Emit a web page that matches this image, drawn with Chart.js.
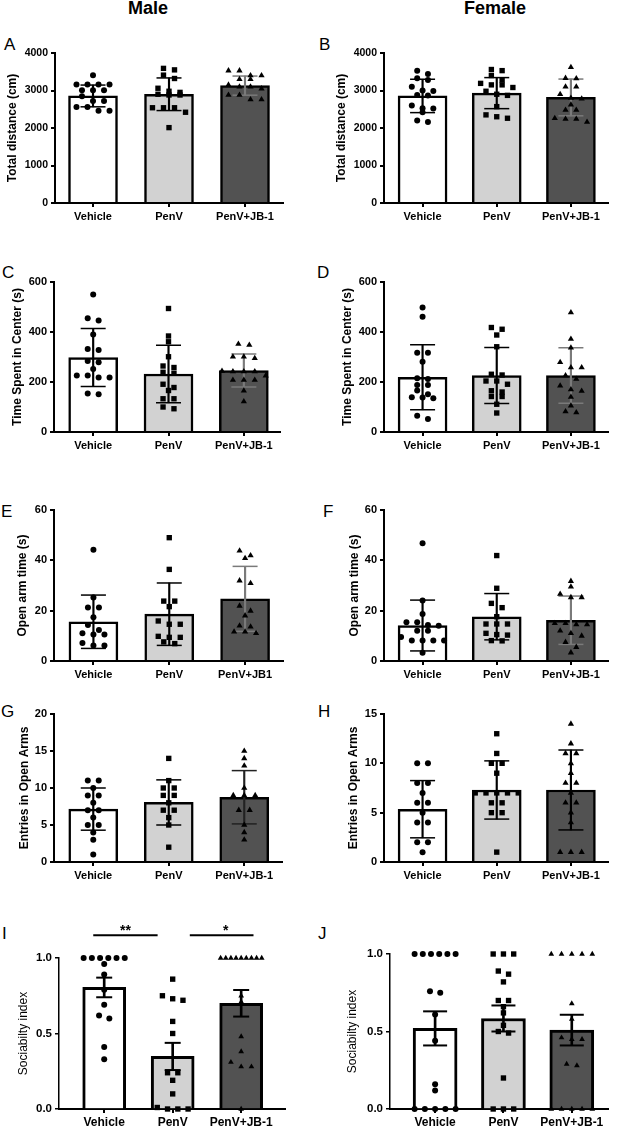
<!DOCTYPE html>
<html>
<head>
<meta charset="utf-8">
<script src="https://cdn.jsdelivr.net/npm/chart.js@4.4.0/dist/chart.umd.min.js"></script>
<style>
  html, body { margin: 0; padding: 0; background: #fff; }
  body { position: relative; width: 622px; height: 1128px; overflow: hidden; font-family: "Liberation Sans", Arial, sans-serif; }
  canvas { position: absolute; }
  .txt { position: absolute; line-height: 1; white-space: nowrap; color: #000; }
  .sex { font-size: 18px; font-weight: bold; transform: translateX(-50%); }
  .tag { font-size: 17px; }
</style>
</head>
<body>
<div class="txt sex" style="left:148px;top:-1px">Male</div>
<div class="txt sex" style="left:495px;top:-1px">Female</div>
<div class="txt tag" style="left:4px;top:35.6px">A</div>
<div class="txt tag" style="left:319px;top:35.6px">B</div>
<div class="txt tag" style="left:2px;top:263.6px">C</div>
<div class="txt tag" style="left:317px;top:263.6px">D</div>
<div class="txt tag" style="left:1px;top:502.6px">E</div>
<div class="txt tag" style="left:323px;top:502.6px">F</div>
<div class="txt tag" style="left:1px;top:702.6px">G</div>
<div class="txt tag" style="left:318px;top:702.6px">H</div>
<div class="txt tag" style="left:2px;top:924.6px">I</div>
<div class="txt tag" style="left:318px;top:924.6px">J</div>

<canvas id="chartA"></canvas>
<canvas id="chartB"></canvas>
<canvas id="chartC"></canvas>
<canvas id="chartD"></canvas>
<canvas id="chartE"></canvas>
<canvas id="chartF"></canvas>
<canvas id="chartG"></canvas>
<canvas id="chartH"></canvas>
<canvas id="chartI"></canvas>
<canvas id="chartJ"></canvas>

<script>
const groupLabels = ["Vehicle", "PenV", "PenV+JB-1"];
const groupLabelsE = ["Vehicle", "PenV", "PenV+JB1"];

// A - total distance, male (mean +/- SD)
const distTicks = [0, 1000, 2000, 3000, 4000];
const distMaleMean = [2855, 2900, 3130];
const distMaleSd = [290, 435, 255];
const distMaleVehicle = [3410, 3160, 3160, 3160, 3160, 3010, 3010, 3010, 2850, 2720, 2720, 2560, 2560, 2460, 2460];
const distMalePenV = [3590, 3550, 3410, 3320, 3060, 2980, 2950, 2900, 2880, 2880, 2540, 2540, 2540, 2420, 2010];
const distMaleJB = [3530, 3530, 3400, 3400, 3300, 3300, 3150, 3100, 3100, 3050, 2880, 2880, 2760, 2760];

// B - total distance, female
const distFemaleMean = [2855, 2930, 2815];
const distFemaleSd = [445, 414, 490];
const distFemaleVehicle = [3530, 3440, 3330, 3280, 3100, 3000, 2990, 2880, 2870, 2600, 2530, 2520, 2420, 2200, 2160];
const distFemalePenV = [3560, 3530, 3400, 3280, 3190, 3150, 3150, 3080, 2980, 2900, 2870, 2570, 2350, 2300, 2260];
const distFemaleJB = [3620, 3330, 3320, 3100, 3100, 2900, 2800, 2780, 2620, 2480, 2480, 2260, 2240, 2240, 2160];

// C - time in center, male
const centerTicks = [0, 200, 400, 600];
const centerMaleMean = [298, 232, 246];
const centerMaleSd = [116, 115, 66];
const centerMaleVehicle = [550, 455, 446, 390, 332, 328, 284, 279, 252, 226, 226, 218, 218, 154, 151];
const centerMalePenV = [494, 384, 361, 301, 264, 258, 239, 235, 191, 178, 166, 133, 133, 100, 93];
const centerMaleJB = [352, 348, 301, 301, 295, 244, 242, 242, 242, 225, 208, 208, 208, 165, 122];

// D - time in center, female
const centerFemaleMean = [219, 226, 226];
const centerFemaleSd = [130, 112, 111];
const centerFemaleVehicle = [498, 461, 317, 317, 281, 215, 212, 188, 188, 166, 151, 139, 138, 135, 65, 52];
const centerFemalePenV = [418, 411, 388, 341, 231, 228, 204, 204, 191, 165, 160, 142, 142, 111, 76];
const centerFemaleJB = [478, 372, 337, 279, 258, 258, 226, 212, 185, 170, 164, 140, 105, 82, 78];

// E - open arm time, male
const openTicks = [0, 20, 40, 60];
const openMaleMean = [15.6, 18.6, 24.7];
const openMaleSd = [10.6, 12.4, 12.9];
const openMaleVehicle = [44.2, 25.2, 21.3, 21.3, 17.4, 14.3, 12.3, 11, 10.5, 10.5, 7.2, 6.2, 6.2];
const openMalePenV = [49, 36.4, 23.8, 23.8, 21.6, 15.9, 14.6, 14.6, 9.8, 9.4, 9.4, 7.6, 6.9];
const openMaleJB = [43.8, 41.9, 40.8, 31.9, 30.9, 21.9, 19.9, 18, 14, 13.6, 11.6, 11.6, 11];

// F - open arm time, female
const openFemaleMean = [14.1, 17.6, 16.2];
const openFemaleSd = [10.1, 9.2, 9.6];
const openFemaleVehicle = [46.8, 24, 18.7, 15.4, 15.4, 14.3, 14, 12, 12, 9.5, 8.1, 8.1, 8.1, 8.1, 3.3];
const openFemalePenV = [41.9, 28.9, 22.9, 21.2, 17.6, 14.7, 14.7, 14.7, 11, 10.5, 10.3, 8.1, 8];
const openFemaleJB = [31.7, 29.5, 26.6, 25.3, 25.3, 15, 15, 14.5, 14.5, 12, 11, 10, 7.5, 5.5, 3.3];

// G - entries in open arms, male
const entriesMaleTicks = [0, 5, 10, 15, 20];
const entriesMaleMean = [7.15, 8.05, 8.75];
const entriesMaleSd = [2.85, 3.05, 3.6];
const entriesMaleVehicle = [11, 11, 10, 9, 9, 8, 7, 7, 6, 5, 5, 4, 3, 1];
const entriesMalePenV = [14, 11, 10, 10, 9, 9, 8, 7, 7, 6, 5, 2];
const entriesMaleJB = [15, 14, 13, 10, 9, 9, 9, 7, 7, 5, 4, 3];

// H - entries in open arms, female
const entriesFemaleTicks = [0, 5, 10, 15];
const entriesFemaleMean = [5.35, 7.3, 7.3];
const entriesFemaleSd = [2.9, 2.95, 4.05];
const entriesFemaleVehicle = [10, 10, 8, 8, 7, 6, 6, 5, 4, 4, 2, 2, 1];
const entriesFemalePenV = [13, 11, 10, 10, 9, 7, 7, 7, 7, 7, 6, 6, 5, 5, 1];
const entriesFemaleJB = [14, 12, 11, 11, 10, 9, 8, 8, 7, 6, 6, 5, 4, 1, 1, 1];

// I - sociability index, male (mean +/- SEM)
const socialTicks = [0, 0.5, 1];
const socialMaleMean = [0.805, 0.348, 0.70];
const socialMaleSem = [0.065, 0.09, 0.088];
const socialMaleVehicle = [1, 1, 1, 1, 1, 1, 0.96, 0.89, 0.79, 0.69, 0.62, 0.60, 0.41, 0.33];
const socialMalePenV = [0.86, 0.75, 0.73, 0.72, 0.58, 0.50, 0.24, 0.24, 0.19, 0.10, 0.01, 0, 0, 0];
const socialMaleJB = [1, 1, 1, 1, 1, 1, 1, 1, 1, 0.75, 0.71, 0.48, 0.38, 0.31, 0.28, 0.28, 0];

// J - sociability index, female
const socialFemaleMean = [0.52, 0.584, 0.509];
const socialFemaleSem = [0.11, 0.084, 0.099];
const socialFemaleVehicle = [1, 1, 1, 1, 1, 1, 0.76, 0.75, 0.61, 0.44, 0.16, 0.12, 0, 0, 0, 0, 0];
const socialFemalePenV = [1, 1, 1, 0.89, 0.87, 0.82, 0.70, 0.70, 0.66, 0.62, 0.54, 0.50, 0.49, 0.20, 0, 0, 0];
const socialFemaleJB = [1, 1, 1, 1, 1, 0.68, 0.58, 0.46, 0.45, 0.45, 0.29, 0.28, 0, 0, 0, 0, 0];

Chart.defaults.font.family = '"Liberation Sans", Arial, Helvetica, sans-serif';
Chart.defaults.color = "#000";

const markerStyles = ["circle", "rect", "triangle"];
const barColors = ["#ffffff", "#d2d2d2", "#525252"];

// points with close values sit side by side, like a scatter dot plot
function swarm(values, center, tol, step, maxSpread) {
  const rows = [];
  values.slice().sort((a, b) => b - a).forEach(v => {
    const row = rows[rows.length - 1];
    if (row && row[0] - v < tol) row.push(v);
    else rows.push([v]);
  });
  const out = [];
  rows.forEach(row => {
    const n = row.length;
    const s = n > 1 ? Math.min(step, maxSpread / (n - 1)) : 0;
    row.forEach((v, k) => out.push({ x: center + (k - (n - 1) / 2) * s, y: v }));
  });
  return out;
}

function sigPlugin(marks) {
  return {
    id: "sig",
    afterDraw(chart) {
      const { ctx } = chart;
      const xs = chart.scales.x, ys = chart.scales.y;
      ctx.save();
      ctx.strokeStyle = "#000";
      ctx.fillStyle = "#000";
      ctx.lineWidth = 2;
      ctx.font = 'bold 14px "Liberation Sans", Arial, sans-serif';
      ctx.textAlign = "center";
      ctx.textBaseline = "alphabetic";
      marks.forEach(m => {
        const x0 = xs.getPixelForValue(m.from), x1 = xs.getPixelForValue(m.to);
        const y = ys.getPixelForValue(m.level);
        ctx.beginPath();
        ctx.moveTo(x0, y);
        ctx.lineTo(x1, y);
        ctx.stroke();
        ctx.fillText(m.text, (x0 + x1) / 2 + m.shift, y - 0.5);
      });
      ctx.restore();
    }
  };
}

function drawPanel(id, p) {
  const canvas = document.getElementById(id);
  const [bx, by, bw, bh] = p.box;
  const [al, at, ar, ab] = p.area;
  canvas.width = bw;
  canvas.height = bh;
  canvas.style.left = bx + "px";
  canvas.style.top = by + "px";

  const yMin = p.yTicks[0];
  const yMax = p.yTicks[p.yTicks.length - 1];
  const tol = (yMax - yMin) * 0.035;
  const errColors = p.errColors || ["#000", "#000", "#000"];

  const datasets = [{
    type: "bar",
    data: p.means.map((m, i) => ({ x: i, y: m })),
    backgroundColor: barColors,
    borderColor: "#000",
    borderWidth: p.barBorder,
    barThickness: p.barWidth,
    grouped: false,
    order: 3
  }, {
    type: "bar",
    data: p.means.map((m, i) => ({ x: i, y: [m - p.errs[i], m + p.errs[i]] })),
    backgroundColor: errColors,
    borderWidth: 0,
    barThickness: p.errWidth,
    grouped: false,
    order: 2
  }, {
    type: "scatter",
    data: p.means.flatMap((m, i) => [{ x: i, y: m + p.errs[i] }, { x: i, y: m - p.errs[i] }]),
    pointStyle: "line",
    pointRadius: p.capHalf,
    pointBorderWidth: p.errWidth,
    pointBorderColor: errColors.flatMap(c => [c, c]),
    clip: false,
    order: 2
  }];

  p.points.forEach((vals, i) => {
    datasets.push({
      type: "scatter",
      data: swarm(vals, i, tol, p.step, 0.6),
      pointStyle: markerStyles[i],
      pointRadius: p.markerR[i],
      pointBackgroundColor: "#000",
      pointBorderColor: "#000",
      pointBorderWidth: 0,
      clip: false,
      order: 1
    });
  });

  const titleFont = { size: 12, weight: p.titleWeight };

  new Chart(canvas, {
    type: "bar",
    data: { datasets },
    plugins: p.sig ? [sigPlugin(p.sig)] : [],
    options: {
      responsive: false,
      animation: false,
      events: [],
      layout: { padding: { left: 0, top: at - by, right: bx + bw - ar, bottom: 0 } },
      plugins: { legend: { display: false }, tooltip: { enabled: false } },
      scales: {
        x: {
          type: "linear",
          min: p.xRange[0],
          max: p.xRange[1],
          offset: false,
          z: 1,
          afterBuildTicks: s => { s.ticks = p.labels.map((_, i) => ({ value: i })); },
          afterFit: s => { s.height = by + bh - ab; },
          ticks: {
            callback: v => p.labels[v],
            font: { size: p.xFont, weight: "bold" },
            padding: p.xPad,
            maxRotation: 0,
            autoSkip: false
          },
          grid: { display: true, offset: false, drawOnChartArea: false, drawTicks: true, tickLength: 4, color: "#000", lineWidth: 2 },
          border: { display: true, color: "#000", width: 2 }
        },
        y: {
          type: "linear",
          min: yMin,
          max: yMax,
          z: 1,
          afterBuildTicks: s => { s.ticks = p.yTicks.map(v => ({ value: v })); },
          afterFit: s => { s.width = al - bx; },
          ticks: {
            callback: v => p.decimals ? v.toFixed(1) : String(v),
            font: { size: p.yFont, weight: "bold" },
            padding: 3
          },
          grid: { display: true, drawOnChartArea: false, drawTicks: true, tickLength: 4, color: "#000", lineWidth: p.yAxisWidth },
          border: { display: true, color: "#000", width: p.yAxisWidth },
          title: {
            display: true,
            text: p.yTitle,
            font: titleFont,
            padding: { top: p.titleX - bx - 7.2, bottom: 0 }
          }
        }
      }
    }
  });
}

const boldPanel = {
  labels: groupLabels, barWidth: 49, barBorder: 2.5, errWidth: 1.5, capHalf: 12.5,
  markerR: [3, 3.8, 3.6], step: 0.145, xFont: 11, yFont: 11, xPad: 3,
  yAxisWidth: 2, titleWeight: "bold", decimals: false,
  errColors: ["#000", "#000", "#7a7a7a"]
};
const socialPanel = {
  labels: groupLabels, barBorder: 3, errWidth: 2, markerR: [3, 3.8, 3.3], step: 0.15,
  xFont: 12, yFont: 11.5, xPad: 2, yAxisWidth: 1.5, titleWeight: "normal", decimals: true,
  yTicks: socialTicks, yTitle: "Sociabilty index"
};

drawPanel("chartA", Object.assign({}, boldPanel, {
  box: [0, 30, 300, 200], area: [55, 53, 283, 203], xRange: [-0.5, 2.5], titleX: 12.5,
  yTicks: distTicks, yTitle: "Total distance (cm)", yFont: 10.5,
  means: distMaleMean, errs: distMaleSd, points: [distMaleVehicle, distMalePenV, distMaleJB]
}));
drawPanel("chartB", Object.assign({}, boldPanel, {
  box: [310, 30, 312, 200], area: [384, 53, 612, 203], xRange: [-0.52, 2.5], titleX: 342,
  yTicks: distTicks, yTitle: "Total distance (cm)", yFont: 10.5,
  means: distFemaleMean, errs: distFemaleSd, points: [distFemaleVehicle, distFemalePenV, distFemaleJB]
}));
drawPanel("chartC", Object.assign({}, boldPanel, {
  box: [0, 240, 300, 220], area: [54, 282, 280, 432], xRange: [-0.52, 2.48], titleX: 18,
  yTicks: centerTicks, yTitle: "Time Spent in Center (s)",
  means: centerMaleMean, errs: centerMaleSd, points: [centerMaleVehicle, centerMalePenV, centerMaleJB]
}));
drawPanel("chartD", Object.assign({}, boldPanel, {
  box: [310, 240, 312, 220], area: [384, 282, 612, 432], xRange: [-0.52, 2.5], titleX: 348,
  yTicks: centerTicks, yTitle: "Time Spent in Center (s)",
  means: centerFemaleMean, errs: centerFemaleSd, points: [centerFemaleVehicle, centerFemalePenV, centerFemaleJB]
}));
drawPanel("chartE", Object.assign({}, boldPanel, {
  box: [0, 470, 300, 220], area: [54, 510, 283, 661], xRange: [-0.52, 2.5], titleX: 23,
  labels: groupLabelsE, yTicks: openTicks, yTitle: "Open arm time (s)",
  means: openMaleMean, errs: openMaleSd, points: [openMaleVehicle, openMalePenV, openMaleJB]
}));
drawPanel("chartF", Object.assign({}, boldPanel, {
  box: [310, 470, 312, 220], area: [384, 510, 612, 661], xRange: [-0.52, 2.5], titleX: 355,
  yTicks: openTicks, yTitle: "Open arm time (s)",
  means: openFemaleMean, errs: openFemaleSd, points: [openFemaleVehicle, openFemalePenV, openFemaleJB]
}));
drawPanel("chartG", Object.assign({}, boldPanel, {
  box: [0, 700, 300, 190], area: [54, 712, 282, 862], xRange: [-0.52, 2.5], titleX: 25,
  yTicks: entriesMaleTicks, yTitle: "Entries in Open Arms", errColors: ["#000", "#000", "#222"],
  means: entriesMaleMean, errs: entriesMaleSd, points: [entriesMaleVehicle, entriesMalePenV, entriesMaleJB]
}));
drawPanel("chartH", Object.assign({}, boldPanel, {
  box: [310, 700, 312, 190], area: [384, 712, 612, 862], xRange: [-0.52, 2.5], titleX: 354,
  yTicks: entriesFemaleTicks, yTitle: "Entries in Open Arms", errColors: ["#000", "#000", "#000"],
  means: entriesFemaleMean, errs: entriesFemaleSd, points: [entriesFemaleVehicle, entriesFemalePenV, entriesFemaleJB]
}));
drawPanel("chartI", Object.assign({}, socialPanel, {
  box: [0, 890, 300, 238], area: [59, 958, 285, 1109], xRange: [-0.66, 2.64], titleX: 24,
  barWidth: 43, capHalf: 8,
  means: socialMaleMean, errs: socialMaleSem, points: [socialMaleVehicle, socialMalePenV, socialMaleJB],
  sig: [
    { from: -0.16, to: 0.78, level: 1.15, text: "**", shift: 0 },
    { from: 1.25, to: 2.18, level: 1.15, text: "*", shift: 4 }
  ]
}));
drawPanel("chartJ", Object.assign({}, socialPanel, {
  box: [310, 890, 312, 238], area: [390, 954, 612, 1109], xRange: [-0.66, 2.53], titleX: 353,
  barWidth: 44, capHalf: 12,
  means: socialFemaleMean, errs: socialFemaleSem, points: [socialFemaleVehicle, socialFemalePenV, socialFemaleJB]
}));
</script>
</body>
</html>
